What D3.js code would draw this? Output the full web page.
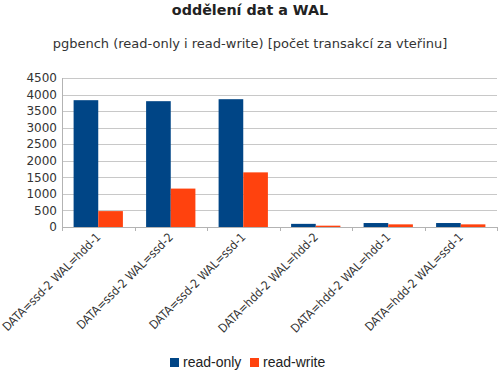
<!DOCTYPE html>
<html>
<head>
<meta charset="utf-8">
<script src="https://cdn.jsdelivr.net/npm/d3@7"></script>
<style>
  body { margin: 0; background: #fff; }
  svg { display: block; }
</style>
</head>
<body>
<div id="chart"></div>
<script>
// data
const categories = [
    "DATA=ssd-2 WAL=hdd-1",
    "DATA=ssd-2 WAL=ssd-2",
    "DATA=ssd-2 WAL=ssd-1",
    "DATA=hdd-2 WAL=hdd-2",
    "DATA=hdd-2 WAL=hdd-1",
    "DATA=hdd-2 WAL=ssd-1"
];
const seriesNames = ["read-only", "read-write"];
const readOnly = [3830, 3800, 3860, 95, 120, 120];
const readWrite = [480, 1160, 1650, 40, 80, 80];
const yTicks = [0, 500, 1000, 1500, 2000, 2500, 3000, 3500, 4000, 4500];

const colors = ["#004586", "#ff420e"];

const W = 500, H = 377;
const margin = { top: 78, right: 3, bottom: 150, left: 62 };
const width = W - margin.left - margin.right;
const height = H - margin.top - margin.bottom;

const svg = d3.select("#chart").append("svg")
    .attr("width", W)
    .attr("height", H);

// titles
svg.append("text")
    .attr("x", W / 2)
    .attr("y", 15)
    .attr("text-anchor", "middle")
    .attr("font-family", "DejaVu Sans")
    .attr("font-weight", "bold")
    .attr("font-size", "14.3px")
    .attr("fill", "#222")
    .text("oddělení dat a WAL");

svg.append("text")
    .attr("x", W / 2)
    .attr("y", 48)
    .attr("text-anchor", "middle")
    .attr("font-family", "DejaVu Sans")
    .attr("font-size", "13px")
    .attr("fill", "#333")
    .text("pgbench (read-only i read-write) [počet transakcí za vteřinu]");

const g = svg.append("g")
    .attr("transform", `translate(${margin.left},${margin.top})`);

// scales
const x0 = d3.scaleBand()
    .domain(categories)
    .range([0, width])
    .paddingInner(0.32)
    .paddingOuter(0.16);

const x1 = d3.scaleBand()
    .domain(seriesNames)
    .range([0, x0.bandwidth()]);

const y = d3.scaleLinear()
    .domain([0, 4500])
    .range([height, 0]);

// grid lines
g.append("g")
    .selectAll("line")
    .data(yTicks)
    .join("line")
    .attr("x1", 0)
    .attr("x2", width)
    .attr("y1", d => Math.round(y(d)) + 0.5)
    .attr("y2", d => Math.round(y(d)) + 0.5)
    .attr("stroke", "#c8c8c8");

// y axis labels
g.append("g")
    .selectAll("text")
    .data(yTicks)
    .join("text")
    .attr("x", -5)
    .attr("y", d => y(d))
    .attr("dy", "0.35em")
    .attr("text-anchor", "end")
    .attr("font-family", "DejaVu Sans")
    .attr("font-size", "12px")
    .attr("fill", "#333")
    .text(d => d);

// y axis line
g.append("line")
    .attr("x1", 0.5).attr("x2", 0.5)
    .attr("y1", 0).attr("y2", height)
    .attr("stroke", "#b3b3b3");

// bars
const data = categories.map((c, i) => ({ cat: c, values: [readOnly[i], readWrite[i]] }));

g.append("g")
    .selectAll("g")
    .data(data)
    .join("g")
    .attr("transform", d => `translate(${x0(d.cat)},0)`)
    .selectAll("rect")
    .data(d => d.values.map((v, j) => ({ key: seriesNames[j], value: v, j })))
    .join("rect")
    .attr("x", d => x1(d.key))
    .attr("y", d => y(d.value))
    .attr("width", x1.bandwidth())
    .attr("height", d => height - y(d.value))
    .attr("fill", d => colors[d.j]);

// x axis line and ticks between categories
g.append("line")
    .attr("x1", 0).attr("x2", width)
    .attr("y1", height + 0.5).attr("y2", height + 0.5)
    .attr("stroke", "#b3b3b3");

const step = width / categories.length;
g.append("g")
    .selectAll("line")
    .data(d3.range(categories.length + 1))
    .join("line")
    .attr("x1", i => Math.round(i * step) + 0.5)
    .attr("x2", i => Math.round(i * step) + 0.5)
    .attr("y1", height)
    .attr("y2", height + 4)
    .attr("stroke", "#b3b3b3");

// rotated category labels
g.append("g")
    .selectAll("text")
    .data(categories)
    .join("text")
    .attr("transform", d => `translate(${x0(d) + x0.bandwidth() / 2 + 3},${height + 11}) rotate(-45)`)
    .attr("text-anchor", "end")
    .attr("font-family", "DejaVu Sans Condensed, DejaVu Sans")
    .attr("font-stretch", "condensed")
    .attr("font-size", "12px")
    .attr("fill", "#333")
    .text(d => d);

// legend
const legend = svg.append("g")
    .attr("transform", `translate(170,${H - 14})`);

const legendX = [0, 80];
seriesNames.forEach((name, i) => {
    legend.append("rect")
        .attr("x", legendX[i])
        .attr("y", -5)
        .attr("width", 9)
        .attr("height", 9)
        .attr("fill", colors[i]);
    legend.append("text")
        .attr("x", legendX[i] + 13)
        .attr("y", 4)
        .attr("font-family", "Liberation Sans")
        .attr("font-size", "14px")
        .attr("fill", "#222")
        .text(name);
});
</script>
</body>
</html>
